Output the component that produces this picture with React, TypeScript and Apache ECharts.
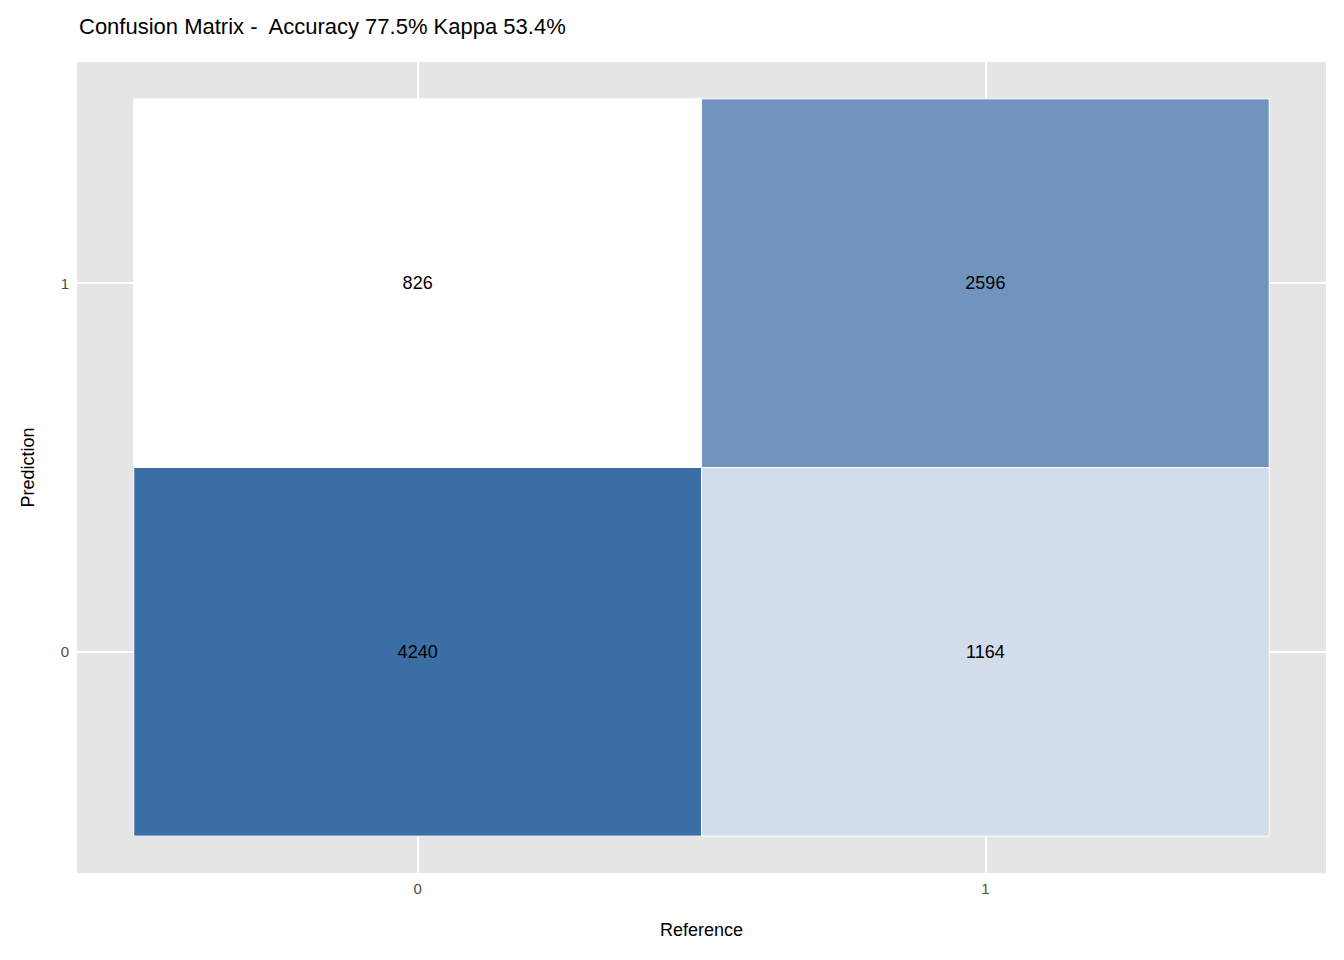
import React, { useEffect, useRef } from "react";
import * as echarts from "echarts";

const referenceCats = ["0", "1"];
const predictionCats = ["0", "1"];
// [referenceIndex, predictionIndex, count]
const cells: [number, number, number][] = [
  [0, 0, 4240],
  [1, 0, 1164],
  [0, 1, 826],
  [1, 1, 2596],
];
const cellColors = ["#3A6EA5", "#D3DCEA", "#FFFFFF", "#7094BE"];
const titleText = "Confusion Matrix -  Accuracy 77.5% Kappa 53.4%";

export default function App() {
  const ref = useRef<HTMLDivElement>(null);
  useEffect(() => {
    document.body.style.margin = "0";
    const chart = echarts.init(ref.current!, undefined, { renderer: "svg" });
    const axisCommon = (name: string, cats: string[], gap: number) => ({
      type: "value",
      min: -0.6,
      max: 1.6,
      name,
      nameLocation: "middle",
      nameGap: gap,
      nameTextStyle: { fontSize: 18, color: "#000", fontFamily: "Liberation Sans" },
      axisLine: { show: false },
      axisTick: { show: true, customValues: [0, 1], length: 5, lineStyle: { color: "#333", width: 1.5 } },
      axisLabel: {
        customValues: [0, 1],
        formatter: (v: number) => cats[Math.round(v)] ?? "",
        fontSize: 15,
        color: "#4D4D4D",
        fontFamily: "Liberation Sans",
        margin: 8,
      },
      splitLine: { show: true, lineStyle: { color: "#FFFFFF", width: 2 } },
    });
    chart.setOption({
      animation: false,
      title: {
        text: titleText,
        left: 74,
        top: 10,
        textStyle: { fontSize: 22, fontWeight: "normal", color: "#000", fontFamily: "Liberation Sans" },
      },
      grid: {
        left: 77,
        right: 18,
        top: 62,
        bottom: 87,
        show: true,
        backgroundColor: "#E5E5E5",
        borderWidth: 0,
      },
      xAxis: axisCommon("Reference", referenceCats, 48),
      yAxis: axisCommon("Prediction", predictionCats, 40),
      series: [
        {
          type: "custom",
          data: cells.map((c, i) => ({ value: c, itemStyle: { color: cellColors[i] } })),
          encode: { x: 0, y: 1 },
          renderItem: (params: any, api: any) => {
            const x = api.value(0);
            const y = api.value(1);
            const p0 = api.coord([x - 0.5, y + 0.5]);
            const p1 = api.coord([x + 0.5, y - 0.5]);
            const c = api.coord([x, y]);
            return {
              type: "group",
              children: [
                {
                  type: "rect",
                  shape: { x: p0[0], y: p0[1], width: p1[0] - p0[0], height: p1[1] - p0[1] },
                  style: { fill: api.visual("color"), stroke: "#FFFFFF", lineWidth: 1 },
                },
                {
                  type: "text",
                  x: c[0],
                  y: c[1],
                  style: {
                    text: String(api.value(2)),
                    fontSize: 18,
                    fill: "#000",
                    align: "center",
                    verticalAlign: "middle",
                    fontFamily: "Liberation Sans",
                  },
                },
              ],
            };
          },
        },
      ],
    });
    return () => chart.dispose();
  }, []);
  return <div ref={ref} style={{ width: 1344, height: 960 }} />;
}
